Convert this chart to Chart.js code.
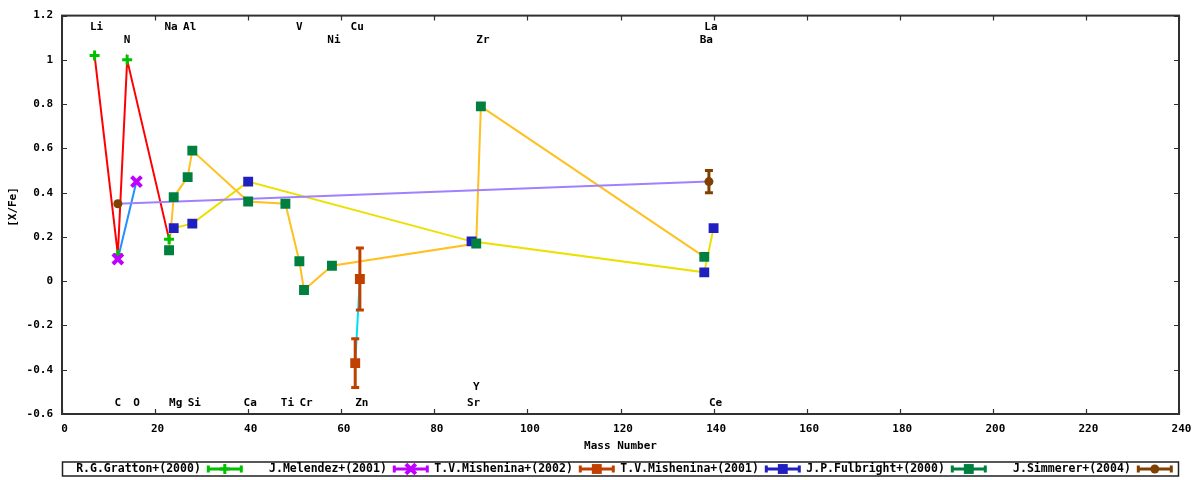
<!DOCTYPE html>
<html>
<head>
<meta charset="utf-8">
<script src="https://cdn.jsdelivr.net/npm/chart.js@4.4.0/dist/chart.umd.min.js"></script>
<style>
  html, body { margin: 0; padding: 0; background: #fff; }
  #wrap { width: 1200px; height: 480px; position: relative; }
</style>
</head>
<body>
<div id="wrap"><canvas id="myChart"></canvas></div>
<script>
// values ([X/Fe] against mass number)
const grattonMass = [7, 12, 14, 23];
const grattonVal = [1.02, 0.12, 1.0, 0.19];

const melendezMass = [12, 16];
const melendezVal = [0.10, 0.45];

const mish02Mass = [63, 64];
const mish02Val = [-0.37, 0.01];
const mish02Err = [0.11, 0.14];

const mish01Mass = [24, 28, 40, 88, 138, 140];
const mish01Val = [0.24, 0.26, 0.45, 0.18, 0.04, 0.24];

const fulbrightMass = [23, 24, 27, 28, 40, 48, 51, 52, 58, 89, 90, 138];
const fulbrightVal = [0.14, 0.38, 0.47, 0.59, 0.36, 0.35, 0.09, -0.04, 0.07, 0.17, 0.79, 0.11];

const simmererMass = [12, 139];
const simmererVal = [0.35, 0.45];
const simmererErr = [0, 0.05];

const elemName = ["Li", "C", "N", "O", "Na", "Mg", "Al", "Si", "Ca", "Ti", "V", "Cr", "Ni", "Cu", "Zn", "Sr", "Y", "Zr", "Ba", "La", "Ce"];
const elemMass = [7, 12, 14, 16, 23, 24, 27, 28, 40, 48, 51, 52, 58, 63, 64, 88, 89, 90, 138, 139, 140];
const elemLabelY = [1.15, -0.55, 1.09, -0.55, 1.15, -0.55, 1.15, -0.55, -0.55, -0.55, 1.15, -0.55, 1.09, 1.15, -0.55, -0.55, -0.48, 1.09, 1.09, 1.15, -0.55];

const xTicksMin = 0, xTicksMax = 240, xStep = 20;
const yTicksMin = -0.6, yTicksMax = 1.2, yStep = 0.2;

const series = [
  { name: "R.G.Gratton+(2000)", mass: grattonMass, val: grattonVal, marker: "#00c000", line: "#ff0000", style: "cross", radius: 5, bw: 3 },
  { name: "J.Melendez+(2001)", mass: melendezMass, val: melendezVal, marker: "#c000ff", line: "#2090ff", style: "crossRot", radius: 7, bw: 4 },
  { name: "T.V.Mishenina+(2002)", mass: mish02Mass, val: mish02Val, err: mish02Err, marker: "#c04000", line: "#00e0f0", style: "rect", radius: 7, bw: 0 },
  { name: "T.V.Mishenina+(2001)", mass: mish01Mass, val: mish01Val, marker: "#2020c0", line: "#ece000", style: "rect", radius: 7, bw: 0 },
  { name: "J.P.Fulbright+(2000)", mass: fulbrightMass, val: fulbrightVal, marker: "#008040", line: "#ffc020", style: "rect", radius: 7, bw: 0 },
  { name: "J.Simmerer+(2004)", mass: simmererMass, val: simmererVal, err: simmererErr, marker: "#804000", line: "#a080ff", style: "circle", radius: 4.5, bw: 0 }
];

const FONT = "'DejaVu Sans Mono', monospace";

function toPoints(s) {
  return s.mass.map((m, i) => ({ x: m, y: s.val[i] }));
}

const datasets = [];
series.forEach((s, i) => {
  datasets.push({
    label: s.name + " line",
    data: toPoints(s),
    showLine: true,
    borderColor: s.line,
    borderWidth: 2,
    pointRadius: 0,
    tension: 0,
    fill: false,
    order: 20 - i
  });
});
series.forEach((s, i) => {
  datasets.push({
    label: s.name,
    data: toPoints(s),
    showLine: false,
    pointStyle: s.style,
    pointRadius: s.radius,
    pointBorderWidth: s.bw,
    pointBackgroundColor: s.marker,
    pointBorderColor: s.marker,
    order: 10 - i
  });
});

function fmtY(v) {
  if (Math.abs(v) < 1e-9) return "0";
  return parseFloat(v.toFixed(1)).toString();
}

const decorPlugin = {
  id: "decor",
  afterDatasetsDraw(chart) {
    const ctx = chart.ctx;
    const area = chart.chartArea;
    const xs = chart.scales.x, ys = chart.scales.y;
    ctx.save();

    // error bars
    series.forEach(s => {
      if (!s.err) return;
      ctx.strokeStyle = s.marker;
      ctx.lineWidth = 3;
      s.mass.forEach((m, i) => {
        const e = s.err[i];
        if (!e) return;
        const px = xs.getPixelForValue(m);
        const top = ys.getPixelForValue(s.val[i] + e);
        const bot = ys.getPixelForValue(s.val[i] - e);
        ctx.beginPath();
        ctx.moveTo(px, top); ctx.lineTo(px, bot);
        ctx.moveTo(px - 4, top); ctx.lineTo(px + 4, top);
        ctx.moveTo(px - 4, bot); ctx.lineTo(px + 4, bot);
        ctx.stroke();
      });
    });

    // element labels
    ctx.fillStyle = "#000";
    ctx.font = "bold 11px " + FONT;
    ctx.textAlign = "center";
    ctx.textBaseline = "middle";
    elemName.forEach((n, i) => {
      const off = n.length > 1 ? 2 : 0;
      ctx.fillText(n, xs.getPixelForValue(elemMass[i]) + off, ys.getPixelForValue(elemLabelY[i]));
    });

    // frame + inward ticks
    ctx.strokeStyle = "#303030";
    ctx.lineWidth = 2;
    ctx.strokeRect(area.left, area.top, area.right - area.left, area.bottom - area.top);
    ctx.lineWidth = 1.2;
    ctx.beginPath();
    xs.ticks.forEach(t => {
      const px = Math.round(xs.getPixelForValue(t.value)) + 0.5;
      ctx.moveTo(px, area.bottom); ctx.lineTo(px, area.bottom - 5);
      ctx.moveTo(px, area.top); ctx.lineTo(px, area.top + 5);
    });
    ys.ticks.forEach(t => {
      const py = Math.round(ys.getPixelForValue(t.value)) + 0.5;
      ctx.moveTo(area.left, py); ctx.lineTo(area.left + 5, py);
      ctx.moveTo(area.right, py); ctx.lineTo(area.right - 5, py);
    });
    ctx.stroke();
    ctx.restore();
  },
  afterDraw(chart) {
    const ctx = chart.ctx;
    const area = chart.chartArea;
    ctx.save();
    ctx.fillStyle = "#000";
    ctx.font = "bold 11px " + FONT;
    ctx.textAlign = "center";
    ctx.textBaseline = "middle";
    ctx.fillText("Mass Number", (area.left + area.right) / 2, 446);

    ctx.save();
    ctx.translate(13, 207);
    ctx.rotate(-Math.PI / 2);
    ctx.fillText("[X/Fe]", 0, 0);
    ctx.restore();

    // legend box
    const boxTop = 462, boxBot = 476;
    ctx.strokeStyle = "#202020";
    ctx.lineWidth = 1.5;
    ctx.strokeRect(area.left + 0.5, boxTop, area.right - area.left - 1, boxBot - boxTop);
    const cy = (boxTop + boxBot) / 2;
    ctx.font = "bold 11.5px " + FONT;
    ctx.textAlign = "right";
    series.forEach((s, i) => {
      const sx = area.left + 145.3 + 186 * i;
      ctx.fillStyle = "#000";
      ctx.fillText(s.name, sx - 6.5, cy + 0.5);
      ctx.strokeStyle = s.marker;
      ctx.fillStyle = s.marker;
      ctx.lineWidth = 3;
      ctx.beginPath();
      ctx.moveTo(sx, cy); ctx.lineTo(sx + 35, cy);
      ctx.moveTo(sx + 1, cy - 3.5); ctx.lineTo(sx + 1, cy + 3.5);
      ctx.moveTo(sx + 34, cy - 3.5); ctx.lineTo(sx + 34, cy + 3.5);
      ctx.stroke();
      ctx.lineWidth = s.bw || 1;
      Chart.helpers.drawPoint(ctx, { pointStyle: s.style, radius: s.radius, borderWidth: s.bw, rotation: 0 }, sx + 17.5, cy);
    });
    ctx.restore();
  }
};

const ctx = document.getElementById("myChart").getContext("2d");
const myChart = new Chart(ctx, {
  type: "line",
  data: { datasets: datasets },
  options: {
    responsive: true,
    maintainAspectRatio: false,
    animation: false,
    layout: { padding: { top: 13, right: 21, left: 0, bottom: 0 } },
    plugins: {
      legend: { display: false },
      tooltip: { enabled: false }
    },
    scales: {
      x: {
        type: "linear",
        min: xTicksMin,
        max: xTicksMax,
        ticks: {
          stepSize: xStep,
          color: "#000",
          font: { family: FONT, size: 11, weight: "bold" },
          padding: 9,
          labelOffset: 2.5,
          maxRotation: 0
        },
        grid: { display: false, drawTicks: false },
        border: { display: false },
        afterFit: s => { s.height = 66; }
      },
      y: {
        min: yTicksMin,
        max: yTicksMax,
        ticks: {
          stepSize: yStep,
          color: "#000",
          font: { family: FONT, size: 11, weight: "bold" },
          padding: 9,
          callback: v => fmtY(v)
        },
        grid: { display: false, drawTicks: false },
        border: { display: false },
        afterFit: s => { s.width = 62; }
      }
    }
  },
  plugins: [decorPlugin]
});
</script>
</body>
</html>
